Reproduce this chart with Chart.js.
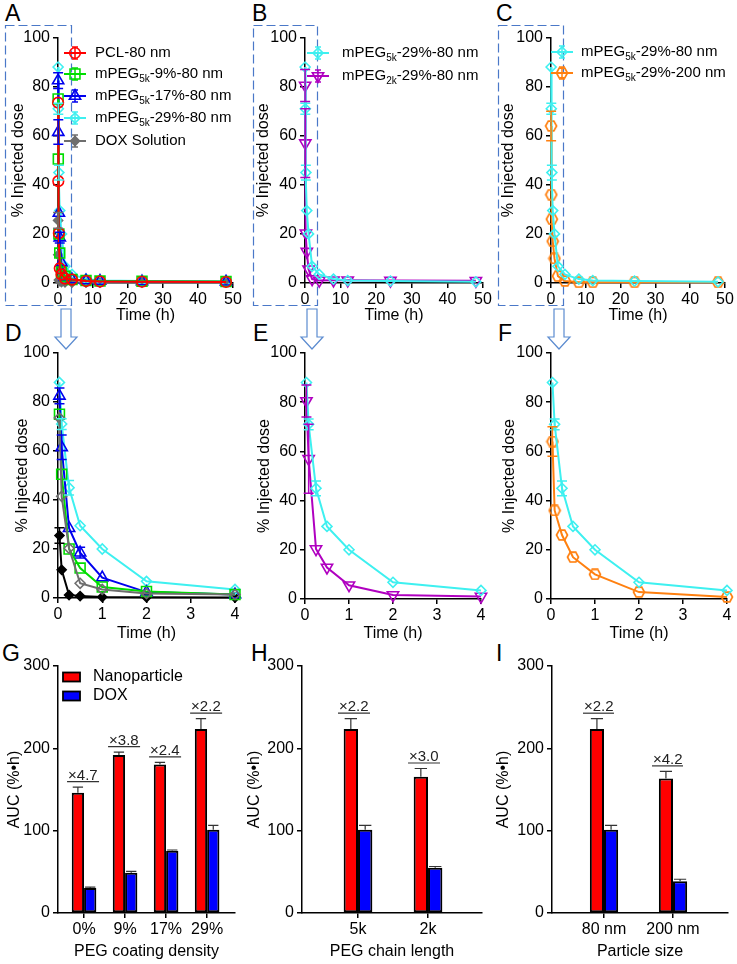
<!DOCTYPE html>
<html>
<head>
<meta charset="utf-8">
<script src="https://cdn.jsdelivr.net/npm/chart.js@4.4.1/dist/chart.umd.min.js"></script>
<style>
html, body { margin: 0; padding: 0; background: #fff; }
body { width: 737px; height: 964px; position: relative; overflow: hidden; font-family: Arial, "Liberation Sans", sans-serif; }
canvas { position: absolute; }
.lbl { position: absolute; font-size: 23px; line-height: 23px; color: #000; }
svg { position: absolute; left: 0; top: 0; }
</style>
</head>
<body>
<svg width="737" height="964">
  <g fill="none" stroke="#4a78c8" stroke-width="1.2" stroke-dasharray="9 4">
    <rect x="5.5" y="25.5" width="66" height="280"/>
    <rect x="253.5" y="25.5" width="64" height="280"/>
    <rect x="498.5" y="25.5" width="65" height="280"/>
  </g>
  <g fill="#fff" stroke="#5b8bd0" stroke-width="1.2">
    <path d="M61 309 H71 V337 H77 L66 349 L55 337 H61 Z"/>
    <path d="M307 309 H317 V337 H323 L312 349 L301 337 H307 Z"/>
    <path d="M554 309 H564 V337 H570 L559 349 L548 337 H554 Z"/>
  </g>
</svg>

<div class="lbl" style="left:5px;top:2px">A</div>
<div class="lbl" style="left:252px;top:2px">B</div>
<div class="lbl" style="left:496px;top:2px">C</div>
<div class="lbl" style="left:5px;top:322px">D</div>
<div class="lbl" style="left:253px;top:322px">E</div>
<div class="lbl" style="left:498px;top:322px">F</div>
<div class="lbl" style="left:2px;top:642px">G</div>
<div class="lbl" style="left:251px;top:642px">H</div>
<div class="lbl" style="left:496px;top:642px">I</div>

<canvas id="cA"></canvas>
<canvas id="cB"></canvas>
<canvas id="cC"></canvas>
<canvas id="cD"></canvas>
<canvas id="cE"></canvas>
<canvas id="cF"></canvas>
<canvas id="cG"></canvas>
<canvas id="cH"></canvas>
<canvas id="cI"></canvas>

<script>
// Sampling times (h)
const times = [0.033, 0.083, 0.25, 0.5, 1, 2, 4, 8, 12, 24, 48];

// % injected dose in blood
const pcl80 = [73.5, 41.5, 20.3, 6.0, 3.5, 1.8, 1.4, 0.8, 0.6, 0.5, 0.4];
const pcl80Err = [1.5, 1.5, 1.0, 0.8, 0.5, 0.3, 0.2, 0.1, 0.1, 0.1, 0.1];
const peg5k9 = [75, 50.5, 20, 12.2, 4.5, 2.7, 1.4, 1.0, 0.8, 0.7, 0.6];
const peg5k9Err = [1.5, 2, 1.2, 1, 0.5, 0.3, 0.2, 0.1, 0.1, 0.1, 0.1];
const peg5k17 = [82.5, 61.5, 28.5, 18.5, 8.3, 2.4, 1.4, 1.0, 0.8, 0.6, 0.5];
const peg5k17Err = [3.2, 5, 2, 2.2, 1, 0.4, 0.3, 0.2, 0.1, 0.1, 0.1];
const peg5k29 = [88, 71, 45, 29.5, 20, 6.8, 3.5, 1.6, 1.0, 0.8, 0.5];
const peg5k29Err = [1.5, 2.2, 3, 1.2, 1, 0.5, 0.4, 0.2, 0.1, 0.1, 0.1];
const doxSol = [25.5, 11.5, 1.2, 0.8, 0.4, 0.3, 0.2, 0.2, 0.2, 0.2, 0.2];
const doxSolErr = [3.2, 1.2, 0.3, 0.2, 0.1, 0.1, 0.1, 0, 0, 0, 0];
const peg2k29 = [80.5, 57, 20.3, 12.8, 5.6, 1.6, 1.0, 1.1, 1.1, 1.0, 0.9];
const peg2k29Err = [6.5, 14, 1.5, 1, 0.5, 0.3, 0.2, 0.1, 0.1, 0.1, 0.1];
const peg5k200 = [64, 36, 26, 17, 10, 2.8, 0.8, 0.3, 0.3, 0.3, 0.3];
const peg5k200Err = [6, 1, 0.8, 0.8, 0.5, 0.3, 0.2, 0.1, 0.1, 0.1, 0.1];

// AUC bars
const densityLabels = ['0%', '9%', '17%', '29%'];
const densityNP = [146, 192, 180.5, 223.5];
const densityNPErr = [7, 3.5, 2.5, 12.5];
const densityDOX = [30.5, 49, 75.5, 101];
const densityDOXErr = [1, 1.5, 1, 5.5];
const densityRatio = ['\u00d74.7', '\u00d73.8', '\u00d72.4', '\u00d72.2'];

const chainLabels = ['5k', '2k'];
const chainNP = [223.5, 165.5];
const chainNPErr = [12.5, 10];
const chainDOX = [101, 55];
const chainDOXErr = [5.5, 1.5];
const chainRatio = ['\u00d72.2', '\u00d73.0'];

const sizeLabels = ['80 nm', '200 nm'];
const sizeNP = [223.5, 163.5];
const sizeNPErr = [12.5, 8.5];
const sizeDOX = [101, 38.5];
const sizeDOXErr = [5.5, 2.5];
const sizeRatio = ['\u00d72.2', '\u00d74.2'];

const FONT = 'Arial, "Liberation Sans", sans-serif';
Chart.defaults.font.family = FONT;
Chart.defaults.font.size = 16;
Chart.defaults.color = '#000';

// hexagon marker for the 200 nm series
const hex = document.createElement('canvas');
hex.width = 14; hex.height = 12;
(function () {
    const h = hex.getContext('2d');
    h.strokeStyle = '#ff8010';
    h.lineWidth = 1.7;
    h.beginPath();
    h.moveTo(1.5, 6); h.lineTo(4.2, 1.2); h.lineTo(9.8, 1.2);
    h.lineTo(12.5, 6); h.lineTo(9.8, 10.8); h.lineTo(4.2, 10.8);
    h.closePath();
    h.stroke();
})();

// error bars drawn through the chart scales
const errorBars = {
    id: 'errorBars',
    afterDatasetsDraw(chart, args, o) {
        const ctx = chart.ctx;
        const ys = chart.scales.y;
        chart.data.datasets.forEach((ds, di) => {
            if (!ds.errors) return;
            const meta = chart.getDatasetMeta(di);
            meta.data.forEach((el, i) => {
                const e = ds.errors[i];
                if (!e) return;
                const v = ds.data[i].y;
                const top = ys.getPixelForValue(v + e);
                if (el.y - top < o.minLen) return;
                const bot = o.upOnly ? el.y : ys.getPixelForValue(v - e);
                const half = o.upOnly ? el.width / 2 - 1 : o.cap / 2;
                ctx.save();
                ctx.strokeStyle = o.color || ds.borderColor;
                ctx.lineWidth = o.width;
                ctx.beginPath();
                ctx.moveTo(el.x, top); ctx.lineTo(el.x, bot);
                ctx.moveTo(el.x - half, top); ctx.lineTo(el.x + half, top);
                if (!o.upOnly) { ctx.moveTo(el.x - half, bot); ctx.lineTo(el.x + half, bot); }
                ctx.stroke();
                ctx.restore();
            });
        });
    }
};

// legend with subscripts for the line panels
const subLegend = {
    id: 'subLegend',
    afterDraw(chart, args, o) {
        if (!o || !o.rows) return;
        const ctx = chart.ctx;
        const ox = o.origin[0], oy = o.origin[1];
        chart.data.datasets.forEach((ds, i) => {
            if (!ds.legendParts || o.rows[i] === undefined) return;
            const y = o.rows[i] - oy;
            const mx = o.markerX - ox;
            ctx.save();
            ctx.strokeStyle = ds.borderColor;
            ctx.lineWidth = 2;
            ctx.beginPath();
            ctx.moveTo(mx - 11, y); ctx.lineTo(mx + 11, y);
            ctx.stroke();
            ctx.lineWidth = 1.5;
            ctx.beginPath();
            ctx.moveTo(mx, y - 6); ctx.lineTo(mx, y + 6);
            ctx.moveTo(mx - 3, y - 6); ctx.lineTo(mx + 3, y - 6);
            ctx.moveTo(mx - 3, y + 6); ctx.lineTo(mx + 3, y + 6);
            ctx.stroke();
            ctx.fillStyle = ds.pointBackgroundColor;
            ctx.strokeStyle = ds.pointBorderColor;
            ctx.lineWidth = ds.pointBorderWidth;
            Chart.helpers.drawPoint(ctx, {
                pointStyle: ds.pointStyle, rotation: ds.pointRotation || 0,
                radius: ds.pointRadius, borderWidth: ds.pointBorderWidth
            }, mx, y);
            let x = o.textX - ox;
            ctx.fillStyle = '#000';
            ctx.textAlign = 'left';
            ctx.textBaseline = 'middle';
            ds.legendParts.forEach((p, k) => {
                const sub = k % 2 === 1;
                ctx.font = (sub ? '10px ' : '15px ') + FONT;
                ctx.fillText(p, x, sub ? y + 5 : y);
                x += ctx.measureText(p).width;
            });
            ctx.restore();
        });
    }
};

// box legend and fold-change labels for the bar panels
const barExtras = {
    id: 'barExtras',
    afterDraw(chart, args, o) {
        const ctx = chart.ctx;
        const ox = o.origin[0], oy = o.origin[1];
        const xs = chart.scales.x, ys = chart.scales.y;
        const dss = chart.data.datasets;
        ctx.save();
        if (o.legendRows) {
            dss.forEach((ds, i) => {
                const y = o.legendRows[i] - oy;
                ctx.fillStyle = ds.backgroundColor;
                ctx.fillRect(o.boxX - ox, y - 4.5, 17, 9);
                ctx.strokeStyle = '#000';
                ctx.lineWidth = 1.8;
                ctx.strokeRect(o.boxX - ox, y - 4.5, 17, 9);
                ctx.fillStyle = '#000';
                ctx.font = '16px ' + FONT;
                ctx.textBaseline = 'middle';
                ctx.fillText(ds.label, o.textX - ox, y);
            });
        }
        o.ratios.forEach((r, i) => {
            let top = 0;
            dss.forEach(ds => { top = Math.max(top, ds.data[i].y + ds.errors[i]); });
            const cx = xs.getPixelForValue(i + 1);
            const uy = ys.getPixelForValue(top) - 5.5;
            ctx.strokeStyle = '#333';
            ctx.lineWidth = 1.2;
            ctx.beginPath();
            ctx.moveTo(cx + o.lineFrom, uy); ctx.lineTo(cx + o.lineTo, uy);
            ctx.stroke();
            ctx.fillStyle = '#222';
            ctx.font = '15px ' + FONT;
            ctx.textBaseline = 'alphabetic';
            ctx.fillText(r, cx + o.lineFrom + 1, uy - 2);
        });
        ctx.restore();
    }
};

function place(id, p) {
    const c = document.getElementById(id);
    c.width = p.cw; c.height = p.ch;
    c.style.left = p.cl + 'px'; c.style.top = p.ct + 'px';
    return c;
}

function axis(p, horizontal, titleText) {
    const s = {
        border: { display: true, color: '#000', width: 1.5 },
        grid: { display: true, drawOnChartArea: false, drawTicks: true, tickLength: 5, color: '#000', lineWidth: 1.5, offset: false },
        ticks: { color: '#000', font: { size: 16 }, padding: horizontal ? 2 : 3 },
        title: { display: true, text: titleText, color: '#000', font: { size: 16 } }
    };
    if (horizontal) {
        s.title.padding = { top: 0, bottom: p.ct + p.ch - p.xTy - 9.6 };
        s.afterFit = sc => { sc.height = p.ct + p.ch - p.B; };
    } else {
        s.title.padding = { top: p.yTx - p.cl - 9.6, bottom: 0 };
        s.afterFit = sc => { sc.width = p.L - p.cl; };
    }
    return s;
}

function layoutPad(p) {
    return { left: 0, top: p.T - p.ct, right: p.cl + p.cw - p.R, bottom: 0 };
}

function series(parts, values, errs, color, style, n, extra) {
    return Object.assign({
        legendParts: parts,
        data: times.slice(0, n).map((t, i) => ({ x: t, y: values[i] })),
        errors: errs.slice(0, n),
        borderColor: color,
        borderWidth: 2,
        pointStyle: style,
        pointRadius: 5,
        pointBorderWidth: 1.6,
        pointBorderColor: color,
        pointBackgroundColor: 'rgba(255,255,255,0)',
        tension: 0,
        clip: false
    }, extra || {});
}

function lineChart(id, p, datasets, xmax, step, legend) {
    const x = axis(p, true, 'Time (h)');
    x.type = 'linear'; x.min = 0; x.max = xmax;
    x.ticks.stepSize = step;
    const y = axis(p, false, '% Injected dose');
    y.min = 0; y.max = 100; y.ticks.stepSize = 20;
    return new Chart(place(id, p), {
        type: 'line',
        data: { datasets: datasets },
        options: {
            responsive: false,
            animation: false,
            layout: { padding: layoutPad(p) },
            scales: { x: x, y: y },
            plugins: {
                legend: { display: false },
                tooltip: { enabled: false },
                errorBars: { minLen: 5, cap: 10, width: 1.5 },
                subLegend: legend ? Object.assign({ origin: [p.cl, p.ct] }, legend) : {}
            }
        },
        plugins: [errorBars, subLegend]
    });
}

function barChart(id, p, labels, np, npErr, dox, doxErr, ratios, xmin, xmax, catPct, extras, xTitle) {
    const x = axis(p, true, xTitle);
    x.type = 'linear'; x.min = xmin; x.max = xmax; x.offset = false;
    x.ticks.stepSize = 1;
    x.ticks.includeBounds = false;
    x.ticks.callback = v => (Number.isInteger(v) && labels[v - 1]) ? labels[v - 1] : '';
    const y = axis(p, false, 'AUC (%\u2022h)');
    y.min = 0; y.max = 300; y.ticks.stepSize = 100;
    const bar = (label, vals, errs, color) => ({
        label: label,
        data: vals.map((v, i) => ({ x: i + 1, y: v })),
        errors: errs,
        backgroundColor: color,
        borderColor: '#000',
        borderWidth: 2,
        borderSkipped: false,
        categoryPercentage: catPct,
        barPercentage: 1
    });
    return new Chart(place(id, p), {
        type: 'bar',
        data: { datasets: [bar('Nanoparticle', np, npErr, '#ff0000'), bar('DOX', dox, doxErr, '#0000ff')] },
        options: {
            responsive: false,
            animation: false,
            layout: { padding: layoutPad(p) },
            scales: { x: x, y: y },
            plugins: {
                legend: { display: false },
                tooltip: { enabled: false },
                errorBars: { upOnly: true, minLen: 0, width: 1.2, color: '#333' },
                barExtras: Object.assign({ origin: [p.cl, p.ct], ratios: ratios }, extras)
            }
        },
        plugins: [errorBars, barExtras]
    });
}

// panel geometry (page pixels)
const pA = { cl: 0, ct: 25, cw: 245, ch: 305, L: 58, T: 37, R: 233, B: 283, yTx: 18.5, xTy: 316 };
const pB = { cl: 245, ct: 25, cw: 250, ch: 305, L: 305, T: 37, R: 483, B: 283, yTx: 264, xTy: 316 };
const pC = { cl: 490, ct: 25, cw: 247, ch: 305, L: 551, T: 37, R: 725, B: 283, yTx: 509, xTy: 316 };
const pD = { cl: 0, ct: 340, cw: 245, ch: 310, L: 58, T: 353, R: 235, B: 598, yTx: 22.5, xTy: 634 };
const pE = { cl: 245, ct: 340, cw: 250, ch: 310, L: 305, T: 353, R: 481, B: 599, yTx: 264.5, xTy: 634 };
const pF = { cl: 490, ct: 340, cw: 247, ch: 310, L: 551, T: 353, R: 727, B: 599, yTx: 510, xTy: 634 };
const pG = { cl: 0, ct: 650, cw: 245, ch: 314, L: 58, T: 666, R: 235, B: 913, yTx: 15, xTy: 952 };
const pH = { cl: 245, ct: 650, cw: 250, ch: 314, L: 302, T: 666, R: 482, B: 913, yTx: 255, xTy: 952 };
const pI = { cl: 490, ct: 650, cw: 247, ch: 314, L: 552, T: 666, R: 728, B: 913, yTx: 503.5, xTy: 952 };

const RED = '#ff0000', GREEN = '#00dd00', BLUE = '#0000ee', CYAN = '#3ef0f0';
const GRAY = '#6e6e6e', MAGENTA = '#b000c0', ORANGE = '#ff8010';

window.addEventListener('load', () => {
    const N = times.length;
    lineChart('cA', pA, [
        series(['PCL-80 nm'], pcl80, pcl80Err, RED, 'circle', N, { pointRadius: 5.3 }),
        series(['mPEG', '5k', '-9%-80 nm'], peg5k9, peg5k9Err, GREEN, 'rect', N, { pointRadius: 7 }),
        series(['mPEG', '5k', '-17%-80 nm'], peg5k17, peg5k17Err, BLUE, 'triangle', N, { pointRadius: 6.5 }),
        series(['mPEG', '5k', '-29%-80 nm'], peg5k29, peg5k29Err, CYAN, 'rectRot', N),
        series(['DOX Solution'], doxSol, doxSolErr, GRAY, 'rectRot', N, { pointRadius: 4.5, pointBackgroundColor: GRAY })
    ], 50, 10, { markerX: 75, textX: 95, rows: [53, 74, 96, 118, 141] });

    lineChart('cB', pB, [
        series(['mPEG', '5k', '-29%-80 nm'], peg5k29, peg5k29Err, CYAN, 'rectRot', N),
        series(['mPEG', '2k', '-29%-80 nm'], peg2k29, peg2k29Err, MAGENTA, 'triangle', N, { pointRadius: 6.5, pointRotation: 180 })
    ], 50, 10, { markerX: 318, textX: 342, rows: [53, 76] });

    lineChart('cC', pC, [
        series(['mPEG', '5k', '-29%-80 nm'], peg5k29, peg5k29Err, CYAN, 'rectRot', N),
        series(['mPEG', '5k', '-29%-200 nm'], peg5k200, peg5k200Err, ORANGE, hex, N)
    ], 50, 10, { markerX: 562, textX: 581, rows: [52, 73] });

    const M = 7; // points up to 4 h
    lineChart('cD', pD, [
        series(null, pcl80, pcl80Err, GRAY, 'rectRot', M),
        series(null, peg5k9, peg5k9Err, GREEN, 'rect', M, { pointRadius: 7 }),
        series(null, peg5k17, peg5k17Err, BLUE, 'triangle', M, { pointRadius: 6.5 }),
        series(null, peg5k29, peg5k29Err, CYAN, 'rectRot', M),
        series(null, doxSol, doxSolErr, '#000', 'rectRot', M, { pointRadius: 4.5, pointBackgroundColor: '#000' })
    ], 4, 1, null);

    lineChart('cE', pE, [
        series(null, peg5k29, peg5k29Err, CYAN, 'rectRot', M),
        series(null, peg2k29, peg2k29Err, MAGENTA, 'triangle', M, { pointRadius: 6.5, pointRotation: 180 })
    ], 4, 1, null);

    lineChart('cF', pF, [
        series(null, peg5k29, peg5k29Err, CYAN, 'rectRot', M),
        series(null, peg5k200, peg5k200Err, ORANGE, hex, M)
    ], 4, 1, null);

    barChart('cG', pG, densityLabels, densityNP, densityNPErr, densityDOX, densityDOXErr, densityRatio,
        0.365, 4.68, 0.6,
        { legendRows: [677, 696], boxX: 63, textX: 93, lineFrom: -17, lineTo: 15 },
        'PEG coating density');

    barChart('cH', pH, chainLabels, chainNP, chainNPErr, chainDOX, chainDOXErr, chainRatio,
        0.2, 2.771, 0.41,
        { lineFrom: -20, lineTo: 12 },
        'PEG chain length');

    barChart('cI', pI, sizeLabels, sizeNP, sizeNPErr, sizeDOX, sizeDOXErr, sizeRatio,
        0.2464, 2.797, 0.41,
        { lineFrom: -21, lineTo: 10 },
        'Particle size');
});
</script>
</body>
</html>
